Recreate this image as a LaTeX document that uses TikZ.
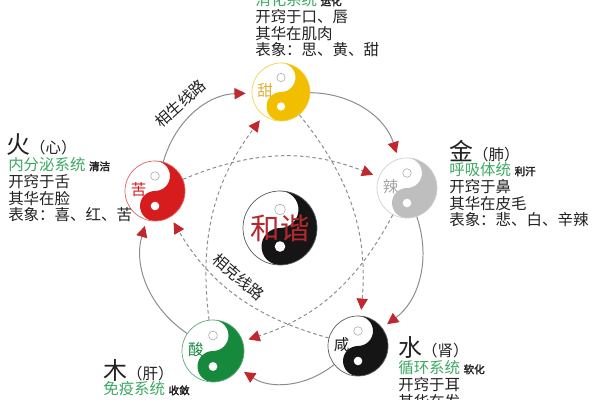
\documentclass[tikz,border=0pt]{standalone}
\usepackage{fontspec}
\setmainfont{Noto Sans CJK SC}[AutoFakeBold=2.5]
\usetikzlibrary{arrows.meta}

\definecolor{earthcol}{HTML}{F2BE00}
\definecolor{earthtxt}{HTML}{DDB13A}
\definecolor{metalcol}{HTML}{BEBEBE}
\definecolor{metaltxt}{HTML}{A5A5A5}
\definecolor{watercol}{HTML}{151515}
\definecolor{woodcol}{HTML}{17893D}
\definecolor{firecol}{HTML}{D71C1E}
\definecolor{arrowred}{HTML}{C0282E}
\definecolor{linegray}{HTML}{8C8C8C}
\definecolor{sysgreen}{HTML}{3DA962}
\definecolor{textdark}{HTML}{222222}
\definecolor{harmred}{HTML}{B3292E}

\newcommand{\yinyang}[6]{%
  \begin{scope}[shift={(#2)},yscale=-1]
    \fill[#3] (0,#5) arc[start angle=90,end angle=-90,radius=#5]
      arc[start angle=-90,end angle=-270,radius=#5/2]
      arc[start angle=-90,end angle=90,radius=#5/2] -- cycle;
    \fill[white] (0,-#5/2) circle[radius=#5/7];
    \draw[gray!70,fill=white,line width=0.4pt] (0,#5/2) circle[radius=#5/7];
    \node[font=\fontsize{11}{11}\selectfont,text=#4] at (-0.55*#5,0.05*#5) {#6};
  \end{scope}
  \node[circle,draw=#3!70,line width=0.5pt,minimum size=#5*0.05cm,inner sep=0pt] (#1) at (#2) {};
}
\newcommand{\tag}[1]{\textbf{\fontsize{7.5}{7.5}\selectfont #1}}

\begin{document}
\begin{tikzpicture}[x=0.025cm,y=-0.025cm,
  tip/.style={-{Triangle[length=2.8mm,width=2.8mm,color=arrowred]}},
  gen/.style={draw=linegray,line width=0.7pt,tip,shorten >=1.5mm},
  ctl/.style={draw=linegray,line width=0.7pt,dash pattern=on 2.5pt off 2pt,tip,shorten >=1.5mm},
  head/.style={anchor=west,inner sep=0pt,font=\fontsize{17}{17}\selectfont,text=textdark},
  info/.style={anchor=north west,inner sep=0pt,align=left,font=\fontsize{11}{12}\selectfont,text=textdark},
  road/.style={font=\fontsize{11}{11}\selectfont,text=textdark,sloped}]

  \clip (0,0) rectangle (600,400);
  \fill[white] (0,0) rectangle (600,400);

  \yinyang{earth}{281,92}{earthcol}{earthtxt}{29}{甜}
  \yinyang{metal}{407,188}{metalcol}{metaltxt}{30}{辣}
  \yinyang{water}{358,346}{watercol}{watercol}{30}{咸}
  \yinyang{wood}{213,351}{woodcol}{woodcol}{31}{酸}
  \yinyang{fire}{155,191}{firecol}{firecol}{30}{苦}
  \yinyang{harmony}{280,228}{watercol}{watercol}{37}{}
  \node[font=\fontsize{21}{21}\selectfont,text=harmred] (harmonytxt) at (280,228) {和谐};

  \draw[gen] (fire) to[bend left=36] node[road,above=3pt,pos=0.45] {相生线路} (earth);
  \draw[gen] (earth) to[bend left=36] (metal);
  \draw[gen] (metal) to[bend left=36] (water);
  \draw[gen] (water) to[bend left=36] (wood);
  \draw[gen] (wood) to[bend left=36] (fire);

  \draw[ctl] (fire) to[bend left=22] (metal);
  \draw[ctl] (metal) to[bend left=22] (wood);
  \draw[ctl] (wood) to[bend left=22] (earth);
  \draw[ctl] (earth) to[bend left=22] (water);
  \draw[ctl] (water) to[bend left=22] node[road,above=2pt,pos=0.55] {相克线路} (fire);

  \node[info] (earthinfo) at (255,-8) {\textcolor{sysgreen}{消化系统} \tag{运化}\\开窍于口、唇\\其华在肌肉\\表象：思、黄、甜};

  \node[head] (firehead) at (6,145) {火{\fontsize{11}{11}\selectfont（心）}};
  \node[info] (fireinfo) at (8,157) {\textcolor{sysgreen}{内分泌系统} \tag{清洁}\\开窍于舌\\其华在脸\\表象：喜、红、苦};

  \node[head] (metalhead) at (449,151) {金{\fontsize{11}{11}\selectfont（肺）}};
  \node[info] (metalinfo) at (449,162) {\textcolor{sysgreen}{呼吸体统} \tag{利汗}\\开窍于鼻\\其华在皮毛\\表象：悲、白、辛辣};

  \node[head] (woodhead) at (103,370) {木{\fontsize{11}{11}\selectfont（肝）}};
  \node[info] (woodinfo) at (103,381) {\textcolor{sysgreen}{免疫系统} \tag{收敛}};

  \node[head] (waterhead) at (398,347) {水{\fontsize{11}{11}\selectfont（肾）}};
  \node[info] (waterinfo) at (398,360) {\textcolor{sysgreen}{循环系统} \tag{软化}\\开窍于耳\\其华在发};
\end{tikzpicture}
\end{document}
